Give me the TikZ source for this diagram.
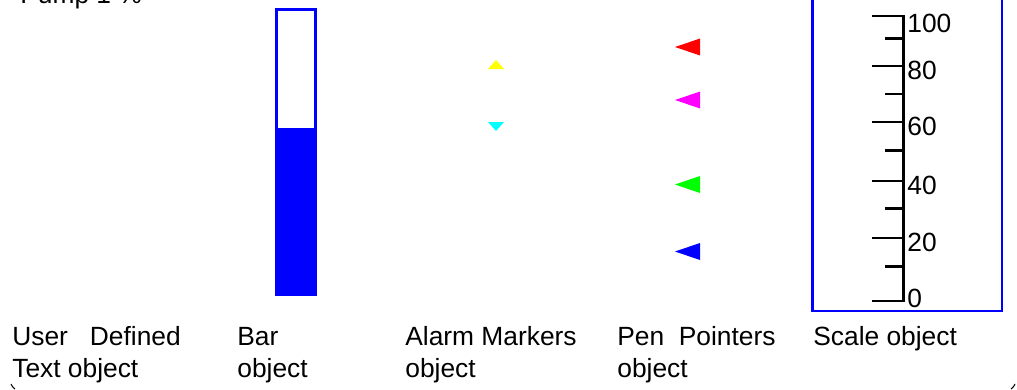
\documentclass[tikz,border=0pt]{standalone}
\usepackage{fontspec}
\setmainfont{Liberation Sans}
\usepackage{xcolor}
\usepackage{tikz}
\usetikzlibrary{positioning}
\definecolor{barblue}{RGB}{0,0,255}
\definecolor{hialarm}{RGB}{255,255,0}
\definecolor{loalarm}{RGB}{0,255,255}
\definecolor{penred}{RGB}{255,0,0}
\definecolor{penmagenta}{RGB}{255,0,255}
\definecolor{pengreen}{RGB}{0,255,0}
\definecolor{penblue}{RGB}{0,0,255}

\begin{document}
\begin{tikzpicture}[x=0.02cm, y=-0.02cm,
    caption/.style={font=\fontsize{15}{18.2}\selectfont, anchor=north west, align=left, inner sep=0pt},
    scalelabel/.style={font=\fontsize{15}{18}\selectfont, anchor=west, inner sep=0pt},
    tick/.style={line width=1.7pt},
    frame/.style={draw=barblue, line width=1.6pt}
]
    \useasboundingbox (0,0) rectangle (1017,389);

    % User Defined Text (cut off at the top)
    \node[font=\fontsize{15}{18}\selectfont, anchor=base west, inner sep=0pt] (pumptext) at (20,3) {Pump 1 \%};

    % Bar object
    \fill[barblue] (275,128) rectangle (317,295);
    \draw[barblue, line width=1.4pt] (276.7,9.7) rectangle (315.3,295);

    % Alarm Markers
    \fill[hialarm] (488,69) -- (504,69) -- (496,60) -- cycle;
    \fill[loalarm] (488,122) -- (504,122) -- (496,131) -- cycle;

    % Pen Pointers
    \foreach \c/\y in {penred/47, penmagenta/100, pengreen/184.5, penblue/251.5} {
        \fill[\c] (675,\y) -- (700,\y-8.5) -- (700,\y+8.5) -- cycle;
    }

    % Scale object
    \draw[frame] (812.5,-5) -- (812.5,311) -- (1002,311) -- (1002,-5);
    \draw[tick] (903,15) -- (903,302);
    \foreach \v/\y/\ly in {100/16/23.5, 80/66/70.5, 60/122/126, 40/181/185, 20/238/242, 0/301/298} {
        \draw[tick] (872,\y) -- (903,\y);
        \node[scalelabel] (lbl\v) at (907,\ly) {\v};
    }
    \foreach \y in {38.7, 94, 150.7, 208.7, 266.7} {
        \draw[tick] (885,\y) -- (903,\y);
    }

    % Captions
    \node[caption] (usercap) at (12,322.5) {\strut User\ \ \ Defined\\\strut Text object};
    \node[caption] (barcap) at (237,322.5) {\strut Bar\\\strut object};
    \node[caption] (alarmcap) at (405,322.5) {\strut Alarm Markers\\\strut object};
    \node[caption] (pencap) at (617,322.5) {\strut Pen\ \ Pointers\\\strut object};
    \node[caption] (scalecap) at (813,322.5) {\strut Scale object};

    % corner marks at the bottom
    \draw[line width=0.6pt] (11,384) to[bend right=15] (15,389);
    \draw[line width=0.6pt] (1015,384) to[bend left=15] (1011,389);
\end{tikzpicture}
\end{document}
